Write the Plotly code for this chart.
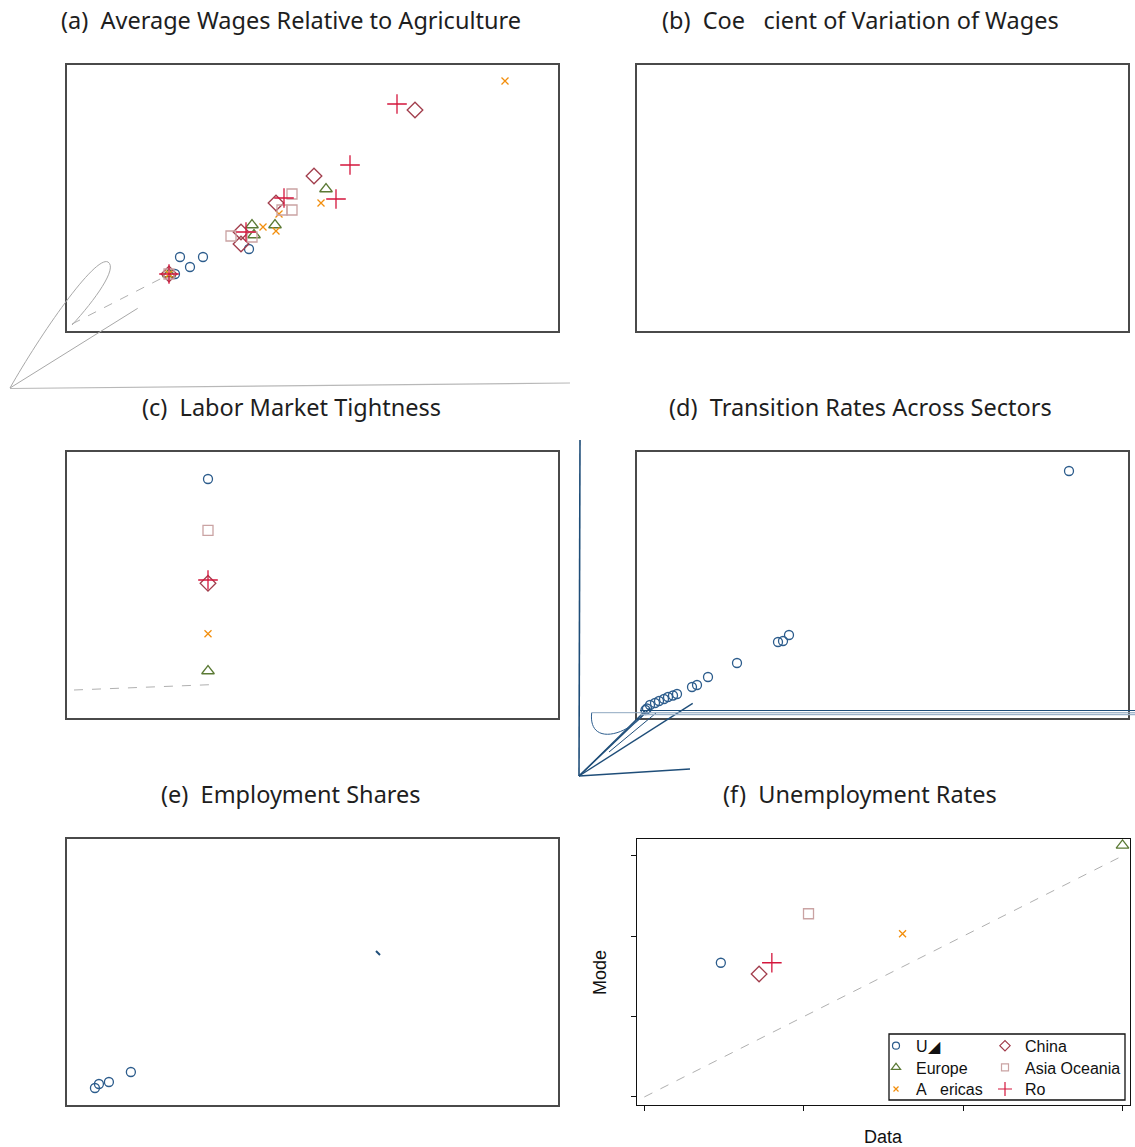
import plotly.graph_objects as go

W, H = 1135, 1147

# ------------------------------------------------------------------ data
regions = ["U\u25e2", "Europe", "A\u00a0\u00a0\u00a0ericas", "China", "Asia Oceania", "Ro"]

# (a) Average wages relative to agriculture : data (x) vs model (y), per region
wage_data_us = [1.08, 1.13, 1.23, 1.36, 1.82]
wage_model_us = [0.57, 0.74, 0.64, 0.74, 0.82]
wage_data_eu = [1.02, 1.85, 1.87, 2.08, 2.59]
wage_model_eu = [0.57, 1.06, 0.96, 1.06, 1.42]
wage_data_am = [1.02, 1.96, 2.09, 2.12, 2.54, 4.38]
wage_model_am = [0.57, 1.04, 1.00, 1.17, 1.28, 2.50]
wage_data_cn = [1.02, 1.74, 1.74, 2.09, 2.47, 3.48]
wage_model_cn = [0.57, 0.87, 0.99, 1.28, 1.55, 2.21]
wage_data_ao = [1.02, 1.64, 1.85, 2.15, 2.25, 2.25]
wage_model_ao = [0.57, 0.95, 0.94, 1.21, 1.21, 1.37]
wage_data_ro = [1.02, 1.79, 2.17, 2.69, 2.83, 3.30]
wage_model_ro = [0.57, 0.99, 1.33, 1.32, 1.66, 2.27]
wage_line_x = [0.05, 1.01]
wage_line_y = [0.07, 0.56]

# (c) Labor market tightness (region order as in `regions`)
tight_data = [1.41, 1.41, 1.41, 1.41, 1.41, 1.41]
tight_model = [2.39, 0.47, 0.843, 1.347, 1.877, 1.38]
tight_line_x = [0.07, 1.43]
tight_line_y = [0.28, 0.333]

# (d) Transition rates across sectors (US)
trans_data = [4.32, 1.52, 1.46, 1.41, 1.00, 0.71, 0.60, 0.55, 0.40, 0.36,
              0.31, 0.27, 0.22, 0.18, 0.13, 0.10, 0.085]
trans_model = [2.47, 0.83, 0.77, 0.76, 0.55, 0.41, 0.33, 0.31, 0.24, 0.225,
               0.21, 0.19, 0.17, 0.15, 0.13, 0.095, 0.08]

# (e) Employment shares (US)
emp_data = [0.28, 0.32, 0.42, 0.64]
emp_model = [0.17, 0.21, 0.23, 0.33]

# (f) Unemployment rates (region order as in `regions`)
unemp_data = [0.48, 3.00, 1.62, 0.72, 1.03, 0.80]
unemp_model = [1.67, 3.13, 2.03, 1.53, 2.28, 1.67]
unemp_line = [0, 3]
unemp_ticks = [0, 1, 2, 3]

titles = ["(a)\u00a0 Average Wages Relative to Agriculture",
          "(b)\u00a0 Coe\u00a0\u00a0\u00a0cient of Variation of Wages",
          "(c)\u00a0 Labor Market Tightness",
          "(d)\u00a0 Transition Rates Across Sectors",
          "(e)\u00a0 Employment Shares",
          "(f)\u00a0 Unemployment Rates"]

# ------------------------------------------------------------------ styles
styles = [
    dict(symbol="circle-open", color="#2c5c8c", size=9, lsize=7),
    dict(symbol="triangle-up-open", color="#5b7a35", size=11, lsize=8),
    dict(symbol="x-thin-open", color="#f28e0c", size=7, lsize=5),
    dict(symbol="diamond-open", color="#a23d4c", size=12, lsize=8),
    dict(symbol="square-open", color="#caa3a3", size=10, lsize=7),
    dict(symbol="cross-thin-open", color="#d4163c", size=14, lsize=10),
]


def mk(i, legend=False):
    s = styles[i]
    return dict(symbol=s["symbol"], color=s["color"],
                size=s["lsize"] if legend else s["size"],
                line=dict(color=s["color"], width=1.2 if legend else 1.3))


def px2p(px, py):
    return px / W, 1 - py / H


fig = go.Figure()

# panel domains (pixel boxes)
boxes = {
    1: (67, 558, 65, 331), 2: (637, 1128, 65, 331),
    3: (67, 558, 452, 718), 4: (637, 1128, 452, 718),
    5: (67, 558, 839, 1105), 6: (637, 1130, 839, 1105),
}
ranges = {
    1: ([0, 4.91], [0, 2.66]), 2: ([0, 4.91], [0, 2.66]),
    3: ([0, 4.91], [0, 2.66]), 4: ([0, 4.91], [0, 2.66]),
    5: ([0, 4.92], [0, 2.66]), 6: ([-0.046, 3.047], [-0.10, 3.21]),
}

layout = {}
for k, (x0, x1, y0, y1) in boxes.items():
    xs = "xaxis" if k == 1 else f"xaxis{k}"
    ys = "yaxis" if k == 1 else f"yaxis{k}"
    lc = "#111111" if k == 6 else "#4a4a4a"
    lw = 1.3 if k == 6 else 1.6
    ax = dict(showgrid=False, zeroline=False, showline=True, mirror=True,
              linecolor=lc, linewidth=lw, showticklabels=False, ticks="",
              fixedrange=True)
    layout[xs] = dict(ax, domain=[x0 / W, x1 / W], range=ranges[k][0],
                      anchor="y" if k == 1 else f"y{k}")
    layout[ys] = dict(ax, domain=[1 - y1 / H, 1 - y0 / H], range=ranges[k][1],
                      anchor="x" if k == 1 else f"x{k}")
layout["xaxis6"].update(ticks="outside", tickvals=unemp_ticks, ticklen=5,
                        tickcolor="#111111", tickwidth=1)
layout["yaxis6"].update(ticks="outside", tickvals=unemp_ticks, ticklen=5,
                        tickcolor="#111111", tickwidth=1)

# ---- (a)
fig.add_trace(go.Scatter(x=wage_line_x, y=wage_line_y, mode="lines",
                         line=dict(color="#b0b0b0", width=1, dash="dash"),
                         xaxis="x", yaxis="y", showlegend=False))
wage_sets = [(wage_data_us, wage_model_us), (wage_data_eu, wage_model_eu),
             (wage_data_am, wage_model_am), (wage_data_cn, wage_model_cn),
             (wage_data_ao, wage_model_ao), (wage_data_ro, wage_model_ro)]
for i, (dx, my) in enumerate(wage_sets):
    fig.add_trace(go.Scatter(x=dx, y=my, mode="markers", marker=mk(i),
                             xaxis="x", yaxis="y", showlegend=False))

# ---- (b) empty panel
fig.add_trace(go.Scatter(x=[], y=[], xaxis="x2", yaxis="y2", showlegend=False))

# ---- (c)
fig.add_trace(go.Scatter(x=tight_line_x, y=tight_line_y, mode="lines",
                         line=dict(color="#b0b0b0", width=1, dash="dash"),
                         xaxis="x3", yaxis="y3", showlegend=False))
for i in [1, 2, 3, 5, 4, 0]:
    fig.add_trace(go.Scatter(x=[tight_data[i]], y=[tight_model[i]], mode="markers",
                             marker=mk(i), xaxis="x3", yaxis="y3", showlegend=False))

# ---- (d)
fig.add_trace(go.Scatter(x=trans_data, y=trans_model, mode="markers", marker=mk(0),
                         xaxis="x4", yaxis="y4", showlegend=False))

# ---- (e)
fig.add_trace(go.Scatter(x=emp_data, y=emp_model, mode="markers", marker=mk(0),
                         xaxis="x5", yaxis="y5", showlegend=False))

# ---- (f)
fig.add_trace(go.Scatter(x=unemp_line, y=unemp_line, mode="lines",
                         line=dict(color="#b0b0b0", width=1, dash="dash"),
                         xaxis="x6", yaxis="y6", showlegend=False))
for i, name in enumerate(regions):
    fig.add_trace(go.Scatter(x=[unemp_data[i]], y=[unemp_model[i]], mode="markers",
                             marker=mk(i), name=name, xaxis="x6", yaxis="y6",
                             showlegend=False))

# legend entries (small symbols as in the original key)
# col1 = U, Europe, Americas ; col2 = China, Asia Oceania, Ro
legend_slot = {0: (896, 1045.7), 1: (896, 1067.3), 2: (896, 1089.0),
               3: (1005, 1045.7), 4: (1005, 1067.3), 5: (1005, 1089.0)}
for i, name in enumerate(regions):
    lname = "legend" if i == 0 else f"legend{i + 1}"
    fig.add_trace(go.Scatter(x=[None], y=[None], mode="markers", marker=mk(i, True),
                             name=name, xaxis="x6", yaxis="y6",
                             legend=lname, showlegend=True))
    sx, sy = legend_slot[i]
    x, _ = px2p(sx - 20, 0)
    _, y = px2p(0, sy - 16.9)
    layout[lname] = dict(x=x, y=y, xanchor="left", yanchor="top",
                         bgcolor="rgba(0,0,0,0)", borderwidth=0,
                         font=dict(family="Liberation Sans, Arial, sans-serif",
                                   size=16, color="#111111"),
                         itemsizing="trace")

# ------------------------------------------------------------------ annotations
ann = []
title_pos = [(291, 20), (860, 20), (291, 407), (860, 407), (291, 794), (860, 794)]
for t, (tx, ty) in zip(titles, title_pos):
    x, y = px2p(tx, ty)
    ann.append(dict(text=t, x=x, y=y, xref="paper", yref="paper", showarrow=False,
                    xanchor="center", yanchor="middle",
                    font=dict(family="Noto Sans", size=23.5, color="#1e1e1e")))
x, y = px2p(883, 1137)
ann.append(dict(text="Data", x=x, y=y, xref="paper", yref="paper", showarrow=False,
                xanchor="center", yanchor="middle",
                font=dict(family="Liberation Sans, Arial", size=18, color="#111111")))
x, y = px2p(600, 973)
ann.append(dict(text="Mode", x=x, y=y, xref="paper", yref="paper", showarrow=False,
                xanchor="center", yanchor="middle", textangle=-90,
                font=dict(family="Liberation Sans, Arial", size=18, color="#111111")))

# ------------------------------------------------------------------ rendering artefacts (decoration)
shapes = []


def seg(a, b, color, width):
    x0, y0 = px2p(*a)
    x1, y1 = px2p(*b)
    shapes.append(dict(type="line", xref="paper", yref="paper", x0=x0, y0=y0,
                       x1=x1, y1=y1, line=dict(color=color, width=width)))


def path(pts, color, width):
    parts = []
    for cmd, ps in pts:
        coords = " ".join("%.5f,%.5f" % px2p(*p) for p in ps)
        parts.append(f"{cmd} {coords}")
    shapes.append(dict(type="path", xref="paper", yref="paper", path=" ".join(parts),
                       line=dict(color=color, width=width)))


grey = "#a8a8a8"
path([("M", [(10, 388)]), ("C", [(40, 335), (95, 255), (108, 262)]),
      ("C", [(118, 268), (95, 300), (72, 325)])], grey, 1)
seg((10, 388), (137.7, 308.3), grey, 1)
seg((10, 388.5), (570, 383), "#b8b8b8", 1.2)

blue = "#1f4e79"
seg((580, 440), (579, 776), blue, 1.6)
seg((579, 776), (690, 769), blue, 1.6)
seg((579, 776), (692.7, 703.3), blue, 1.4)
seg((579, 776), (650, 708.3), blue, 1.4)
seg((579, 776), (645, 711), blue, 1.2)
seg((609, 752), (656, 713), blue, 1.0)
path([("M", [(591.7, 712.7)]), ("C", [(588, 745), (625, 738), (646.7, 711.7)])], "#2f5f8f", 1)
seg((591.7, 712.7), (1135, 712.7), "#8fa8c0", 1)
seg((640, 710.5), (1135, 710.5), blue, 1)
seg((640, 714.5), (1135, 714.5), "#9db3c9", 1.5)
seg((376, 951), (380, 955), blue, 2)

# legend frame of panel (f)
x0, y0 = px2p(889, 1034)
x1, y1 = px2p(1125, 1100)
shapes.append(dict(type="rect", xref="paper", yref="paper", x0=x0, y0=y1, x1=x1, y1=y0,
                   line=dict(color="#111111", width=1.3), fillcolor="white", layer="above"))

fig.update_layout(width=W, height=H, margin=dict(l=0, r=0, t=0, b=0),
                  paper_bgcolor="white", plot_bgcolor="white",
                  annotations=ann, shapes=shapes, **layout)

fig.write_html("out.html", config={"displayModeBar": False},
               post_script="document.body.style.margin='0px';")
